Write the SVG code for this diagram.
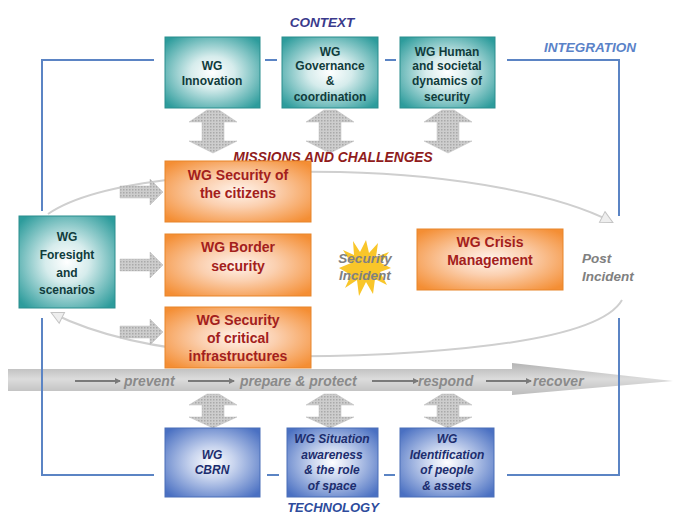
<svg xmlns="http://www.w3.org/2000/svg" width="673" height="516" viewBox="0 0 673 516">
<style>
.t{font-family:"Liberation Sans",Arial,sans-serif;font-weight:bold;text-anchor:middle}
.teal{fill:url(#gTeal);stroke:#2a8e8e;stroke-width:1}
.orange{fill:url(#gOrange);stroke:#e8852a;stroke-width:1}
.blue{fill:url(#gBlue);stroke:#4a6fb8;stroke-width:1}
.tt{fill:#103c3c;font-size:12px}
.ot{fill:#a3201c;font-size:14px}
.bt{fill:#1c2d6e;font-size:12px;font-style:italic}
.frame{fill:none;stroke:#5b84c4;stroke-width:2}
.garrow{fill:url(#dots);stroke:#bdbdbd;stroke-width:0.5}
.loop{fill:none;stroke:#cfcfcf;stroke-width:2}
.band{fill:#8a8a8a;font-size:14px;font-style:italic;text-anchor:start}
.small{stroke:#7a7a7a;stroke-width:2;fill:none}
.grey{fill:#808080;font-size:13.5px;font-style:italic}
</style>
<defs>
<radialGradient id="gTeal" cx="0.5" cy="0.5" r="0.65">
<stop offset="0" stop-color="#ffffff"/><stop offset="0.35" stop-color="#d6ecec"/><stop offset="1" stop-color="#2d9c9c"/>
</radialGradient>
<radialGradient id="gOrange" cx="0.5" cy="0.5" r="0.65">
<stop offset="0" stop-color="#fff4ec"/><stop offset="0.4" stop-color="#fbd0b0"/><stop offset="1" stop-color="#f48e34"/>
</radialGradient>
<radialGradient id="gBlue" cx="0.5" cy="0.5" r="0.65">
<stop offset="0" stop-color="#ffffff"/><stop offset="0.35" stop-color="#c8d4ee"/><stop offset="1" stop-color="#4a70c2"/>
</radialGradient>
<linearGradient id="gBand" x1="0" y1="0" x2="0" y2="1">
<stop offset="0" stop-color="#b4b4b4"/><stop offset="0.5" stop-color="#dcdcdc"/><stop offset="1" stop-color="#bcbcbc"/>
</linearGradient>
<pattern id="dots" width="3" height="3" patternUnits="userSpaceOnUse">
<rect width="3" height="3" fill="#cdcdcd"/><rect width="1.5" height="1.5" fill="#a9a9a9"/>
</pattern>
<marker id="hollow" markerWidth="14" markerHeight="14" refX="12" refY="7" orient="auto" markerUnits="userSpaceOnUse">
<path d="M1,1 L13,7 L1,13 Z" fill="#eeeeee" stroke="#c4c4c4" stroke-width="1"/>
</marker>
<marker id="sm" markerWidth="6" markerHeight="6" refX="5" refY="3" orient="auto" markerUnits="userSpaceOnUse">
<path d="M0,0 L6,3 L0,6 Z" fill="#7a7a7a"/>
</marker>
</defs>
<rect width="673" height="516" fill="#ffffff"/>

<g id="loop">
<path class="loop" d="M48,214 C100,178 240,170 340,172 C460,175 560,195 612,222" marker-end="url(#hollow)"/>
<path class="loop" d="M622,300 C605,330 520,345 420,352 C300,360 150,362 52,313" marker-end="url(#hollow)"/>
</g>

<g id="band">
<polygon points="8,369 512,369 512,363 673,381 512,395 512,391 8,391" fill="url(#gBand)"/>
<line class="small" x1="75" y1="381" x2="120" y2="381" marker-end="url(#sm)"/>
<text class="t band" x="124" y="386">prevent</text>
<line class="small" x1="188" y1="381" x2="234" y2="381" marker-end="url(#sm)"/>
<text class="t band" x="240" y="386">prepare &amp; protect</text>
<line class="small" x1="372" y1="381" x2="418" y2="381" marker-end="url(#sm)"/>
<text class="t band" x="418" y="386">respond</text>
<line class="small" x1="486" y1="381" x2="531" y2="381" marker-end="url(#sm)"/>
<text class="t band" x="533" y="386">recover</text>
</g>

<g id="frame">
<path class="frame" d="M154,60 H42 V211 M42,318 V475 H154 M507,60 H619 V216 M619,318 V475 H507"/>
<path class="frame" d="M265,60 H277 M385,60 H396 M267,475 H279 M384,475 H395"/>
</g>

<g id="connectors">
<path class="garrow" d="M207,110 L219,110 L237,122 L224,122 L224,141 L237,141 L213,153 L189,141 L202,141 L202,122 L189,122 Z"/>
<path class="garrow" d="M324,110 L336,110 L354,122 L341,122 L341,141 L354,141 L330,153 L306,141 L319,141 L319,122 L306,122 Z"/>
<path class="garrow" d="M442,110 L454,110 L472,122 L459,122 L459,141 L472,141 L448,153 L424,141 L437,141 L437,122 L424,122 Z"/>
<path class="garrow" d="M207,394 L219,394 L237,405 L224,405 L224,417 L237,417 L213,428 L189,417 L202,417 L202,405 L189,405 Z"/>
<path class="garrow" d="M324,394 L336,394 L354,405 L341,405 L341,417 L354,417 L330,428 L306,417 L319,417 L319,405 L306,405 Z"/>
<path class="garrow" d="M442,394 L454,394 L472,405 L459,405 L459,417 L472,417 L448,428 L424,417 L437,417 L437,405 L424,405 Z"/>
<path class="garrow" d="M120,186 L150,186 L150,179 L163,192 L150,205 L150,198 L120,198 Z"/>
<path class="garrow" d="M120,259 L150,259 L150,252 L163,265 L150,278 L150,271 L120,271 Z"/>
<path class="garrow" d="M120,326 L150,326 L150,319 L163,332 L150,345 L150,338 L120,338 Z"/>
</g>

<g id="labels">
<text class="t" x="322" y="27" font-size="13.5" font-style="italic" fill="#3a3a8c">CONTEXT</text>
<text class="t" x="590" y="52" font-size="13.5" font-style="italic" fill="#5a82c8">INTEGRATION</text>
<text class="t" x="333" y="162" font-size="13.8" font-style="italic" fill="#901c1c">MISSIONS AND CHALLENGES</text>
<text class="t" x="333" y="512" font-size="13" font-style="italic" fill="#2d4b9c">TECHNOLOGY</text>
</g>

<g id="wg-innovation">
<rect class="teal" x="165" y="37" width="95" height="71"/>
<text class="t tt" x="212" y="70" font-size="11.5">WG</text>
<text class="t tt" x="212" y="85" font-size="11.5">Innovation</text>
</g>
<g id="wg-governance">
<rect class="teal" x="282" y="37" width="96" height="71"/>
<text class="t tt" x="330" y="56">WG</text>
<text class="t tt" x="330" y="70">Governance</text>
<text class="t tt" x="330" y="85">&amp;</text>
<text class="t tt" x="330" y="101">coordination</text>
</g>
<g id="wg-human">
<rect class="teal" x="400" y="37" width="95" height="71"/>
<text class="t tt" x="447" y="56">WG Human</text>
<text class="t tt" x="447" y="70">and societal</text>
<text class="t tt" x="447" y="85">dynamics of</text>
<text class="t tt" x="447" y="101">security</text>
</g>

<g id="wg-foresight">
<rect class="teal" x="19" y="216" width="96" height="92"/>
<text class="t tt" x="67" y="241" font-size="14">WG</text>
<text class="t tt" x="67" y="259" font-size="14">Foresight</text>
<text class="t tt" x="67" y="277" font-size="14">and</text>
<text class="t tt" x="67" y="294" font-size="14">scenarios</text>
</g>

<g id="wg-citizens">
<rect class="orange" x="165" y="161" width="146" height="61"/>
<text class="t ot" x="238" y="180">WG Security  of</text>
<text class="t ot" x="238" y="198">the citizens</text>
</g>
<g id="wg-border">
<rect class="orange" x="165" y="234" width="146" height="62"/>
<text class="t ot" x="238" y="252">WG Border</text>
<text class="t ot" x="238" y="271">security</text>
</g>
<g id="wg-critical">
<rect class="orange" x="165" y="307" width="146" height="61"/>
<text class="t ot" x="238" y="325">WG Security</text>
<text class="t ot" x="238" y="343">of critical</text>
<text class="t ot" x="238" y="361">infrastructures</text>
</g>

<g id="security-incident">
<polygon fill="#f9c62a" points="366,240 369,253 378,243 376,257 389,252 381,263 391,268 380,272 387,285 375,279 373,294 366,282 359,296 357,280 345,288 351,275 339,268 351,263 343,250 354,255 353,241 360,252"/>
<text class="t grey" x="365" y="263">Security</text>
<text class="t grey" x="365" y="280">Incident</text>
</g>

<g id="wg-crisis">
<rect class="orange" x="417" y="229" width="146" height="61"/>
<text class="t ot" x="490" y="247">WG  Crisis</text>
<text class="t ot" x="490" y="265">Management</text>
</g>

<g id="post-incident">
<text class="t grey" x="582" y="263" style="text-anchor:start">Post</text>
<text class="t grey" x="582" y="281" style="text-anchor:start">Incident</text>
</g>

<g id="wg-cbrn">
<rect class="blue" x="165" y="428" width="95" height="69"/>
<text class="t bt" x="212" y="459">WG</text>
<text class="t bt" x="212" y="474">CBRN</text>
</g>
<g id="wg-situation">
<rect class="blue" x="287" y="428" width="91" height="69"/>
<text class="t bt" x="332" y="443">WG Situation</text>
<text class="t bt" x="332" y="459">awareness</text>
<text class="t bt" x="332" y="474">&amp; the role</text>
<text class="t bt" x="332" y="490">of space</text>
</g>
<g id="wg-identification">
<rect class="blue" x="400" y="428" width="94" height="69"/>
<text class="t bt" x="447" y="443">WG</text>
<text class="t bt" x="447" y="459">Identification</text>
<text class="t bt" x="447" y="474">of people</text>
<text class="t bt" x="447" y="490">&amp; assets</text>
</g>
</svg>
